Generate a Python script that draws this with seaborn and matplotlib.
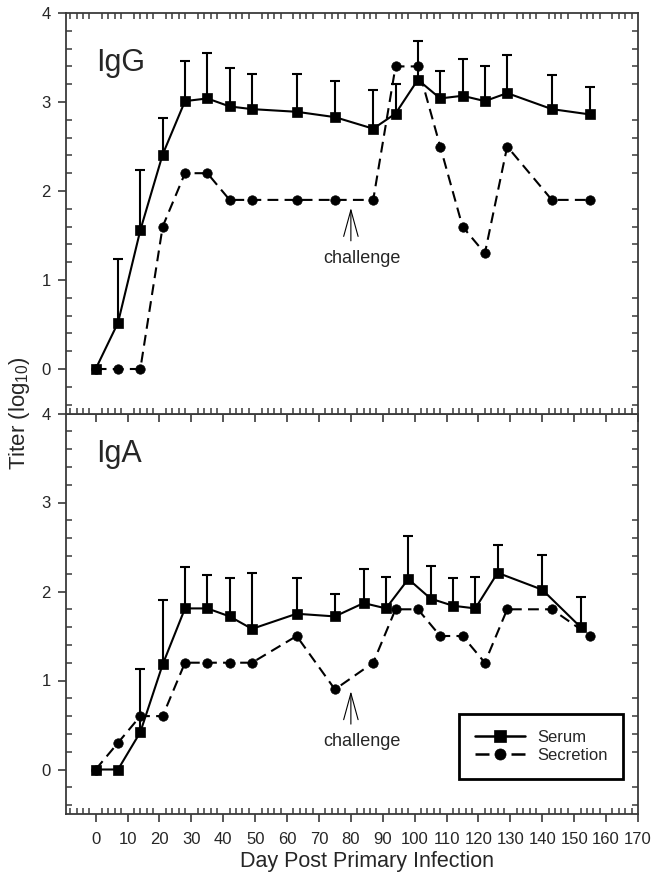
import numpy as np
import pandas as pd
import matplotlib
matplotlib.use("Agg")
import matplotlib.pyplot as plt
import seaborn as sns
from matplotlib.ticker import MultipleLocator

# ---------------- data ----------------
series_names = ["Serum", "Secretion"]

days_std = [0, 7, 14, 21, 28, 35, 42, 49, 63, 75, 87, 94, 101, 108, 115, 122, 129, 143, 155]
days_iga_serum = [0, 7, 14, 21, 28, 35, 42, 49, 63, 75, 84, 91, 98, 105, 112, 119, 126, 140, 152]

igg_serum = [0.00, 0.52, 1.56, 2.41, 3.01, 3.04, 2.95, 2.92, 2.89, 2.83, 2.70,
             2.87, 3.25, 3.04, 3.07, 3.01, 3.10, 2.92, 2.86]
igg_serum_top = [np.nan, 1.24, 2.24, 2.82, 3.46, 3.55, 3.38, 3.32, 3.31, 3.24, 3.13,
                 3.20, 3.68, 3.35, 3.48, 3.41, 3.53, 3.30, 3.17]
igg_secretion = [0.0, 0.0, 0.0, 1.6, 2.2, 2.2, 1.9, 1.9, 1.9, 1.9, 1.9,
                 3.4, 3.4, 2.5, 1.6, 1.3, 2.5, 1.9, 1.9]

iga_serum = [0.00, 0.00, 0.42, 1.18, 1.81, 1.81, 1.72, 1.58, 1.75, 1.72, 1.87,
             1.81, 2.14, 1.92, 1.84, 1.81, 2.21, 2.02, 1.60]
iga_serum_top = [np.nan, np.nan, 1.13, 1.90, 2.28, 2.18, 2.15, 2.21, 2.15, 1.97, 2.25,
                 2.16, 2.62, 2.29, 2.15, 2.16, 2.52, 2.41, 1.94]
iga_secretion = [0.0, 0.3, 0.6, 0.6, 1.2, 1.2, 1.2, 1.2, 1.5, 0.9, 1.2,
                 1.8, 1.8, 1.5, 1.5, 1.2, 1.8, 1.8, 1.5]

panel_titles = ["IgG", "IgA"]
challenge_day = 80
x_ticks = list(range(0, 171, 10))
y_ticks = [0, 1, 2, 3, 4]

# ---------------- style ----------------
sns.set_style("ticks")
plt.rcParams["font.family"] = ["Liberation Sans", "DejaVu Sans"]
plt.rcParams["mathtext.fontset"] = "custom"
plt.rcParams["mathtext.rm"] = "Liberation Sans"
plt.rcParams["mathtext.it"] = "Liberation Sans:italic"

fig = plt.figure(figsize=(6.52, 8.76), dpi=100)
W, H = 652, 876
left_px, right_px = 66, 638
ax_w = (right_px - left_px) / W
ax_h = 400.5 / H
bot_b = (H - 814) / H
ax_bot = fig.add_axes([left_px / W, bot_b, ax_w, ax_h])
ax_top = fig.add_axes([left_px / W, bot_b + ax_h, ax_w, ax_h])

spine_col = "#3a3a3a"
lw = 1.5
dash = (5.2, 3.0)


def make_df(d_serum, serum, d_sec, sec):
    return pd.DataFrame({
        "day": list(d_serum) + list(d_sec),
        "titer": list(serum) + list(sec),
        "series": [series_names[0]] * len(serum) + [series_names[1]] * len(sec),
    })


panels = [
    (ax_top, days_std, igg_serum, igg_serum_top, days_std, igg_secretion, panel_titles[0], 1.81, 1.44, 1.24, 3.35),
    (ax_bot, days_iga_serum, iga_serum, iga_serum_top, days_std, iga_secretion, panel_titles[1], 0.88, 0.51, 0.31, 3.46),
]

for i, (ax, ds, s, stop, dsec, sec, title, tip, stem, ty, tb) in enumerate(panels):
    df = make_df(ds, s, dsec, sec)
    err_up = np.array(stop) - np.array(s)
    err_lo = np.zeros(len(s))
    eb = ax.errorbar(ds, s, yerr=[err_lo, err_up], fmt="none", ecolor="black",
                     elinewidth=lw, capsize=3.7, capthick=lw, zorder=1.5)
    # only upper caps as in the reference
    eb[1][0].set_visible(False)
    sns.lineplot(data=df, x="day", y="titer", style="series", ax=ax,
                 markers={"Serum": "s", "Secretion": "o"},
                 dashes={"Serum": "", "Secretion": dash},
                 color="black", linewidth=lw, markersize=6.8,
                 markeredgecolor="black", markeredgewidth=0.5,
                 legend=(i == 1), zorder=2)

    ax.set_xlim(-9.3, 170)
    ax.set_ylim(-0.5, 4)
    ax.set_xticks(x_ticks)
    ax.set_yticks(y_ticks)
    ax.xaxis.set_minor_locator(MultipleLocator(2))
    ax.yaxis.set_minor_locator(MultipleLocator(0.2))
    ax.set_xlabel("")
    ax.set_ylabel("")
    for sp in ax.spines.values():
        sp.set_visible(True)
        sp.set_color(spine_col)
        sp.set_linewidth(1.3)
    ax.tick_params(axis="both", which="major", direction="out", length=6, width=1.2,
                   color=spine_col, labelsize=12, pad=5)
    ax.tick_params(axis="x", which="major", top=False, bottom=True, pad=7)
    ax.tick_params(axis="y", which="major", left=True, right=False)
    ax.tick_params(axis="both", which="minor", direction="in", length=4.5, width=1.1,
                   color=spine_col)
    ax.tick_params(axis="x", which="minor", bottom=True, top=(i == 0))
    ax.tick_params(axis="y", which="minor", left=True, right=True)

    ax.text(0, tb, title, fontsize=22, ha="left", va="baseline")
    ax.annotate("", xy=(challenge_day, tip), xytext=(challenge_day, stem),
                arrowprops=dict(arrowstyle="->,head_length=1.9,head_width=0.52",
                                lw=0.8, color="black", shrinkA=0, shrinkB=0,
                                mutation_scale=10))
    ax.text(challenge_day + 3.6, ty, "challenge", fontsize=13, ha="center", va="center")

ax_top.tick_params(axis="x", which="major", labelbottom=False)

handles, labels = ax_bot.get_legend_handles_labels()
if ax_bot.get_legend() is not None:
    ax_bot.get_legend().remove()
for h in handles:
    h.set_linewidth(1.8)
    h.set_markersize(8)
handles[1].set_linestyle((0, (5.6, 2.4, 4.0, 2.4)))
leg = ax_bot.legend(handles, labels, loc="lower right", bbox_to_anchor=(0.974, 0.087),
                    borderaxespad=0, fontsize=12, frameon=True, fancybox=False,
                    handlelength=3.0, handletextpad=0.7, borderpad=0.95,
                    labelspacing=0.2)
leg.get_frame().set_edgecolor("black")
leg.get_frame().set_linewidth(2.0)
leg.get_frame().set_alpha(1)

fig.text(20 / W, 1 - 413 / H, "Titer (log$_{10}$)", rotation=90, ha="center",
         va="center", fontsize=16)
fig.text(367 / W, 1 - 862 / H, "Day Post Primary Infection", ha="center",
         va="center", fontsize=15.5)

fig.savefig("out.png", dpi=100)
